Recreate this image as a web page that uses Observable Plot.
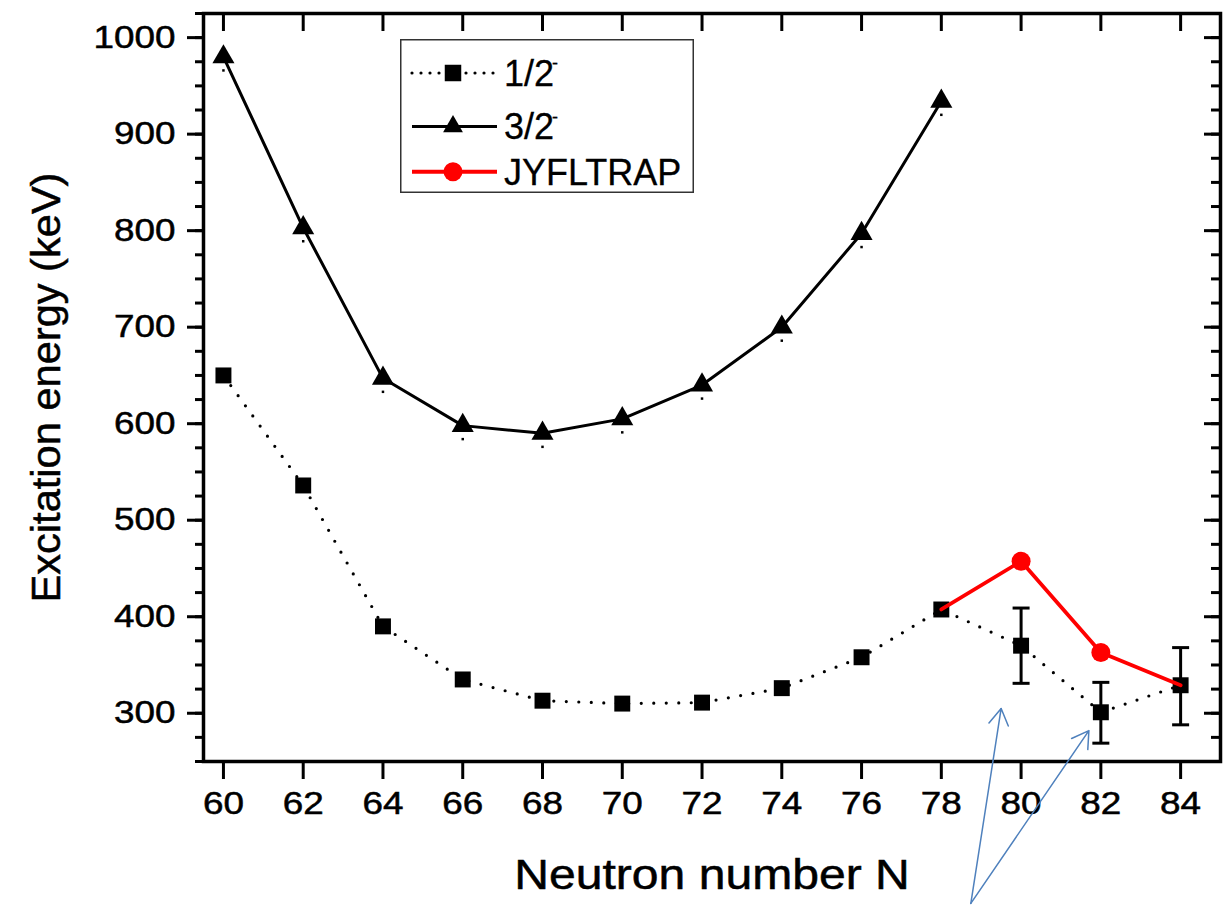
<!DOCTYPE html>
<html><head><meta charset="utf-8">
<script src="https://cdn.jsdelivr.net/npm/d3@7"></script>
<script src="https://cdn.jsdelivr.net/npm/@observablehq/plot@0.6"></script>
<style>
body{margin:0;background:#fff;}
#wrap{position:relative;width:1229px;height:905px;font-family:"Liberation Sans",Arial,sans-serif;}
#legend{position:absolute;left:400px;top:39px;}
</style></head><body><div id="wrap"></div>
<script>
// ---- data ----
const halfN = [60,62,64,66,68,70,72,74,76,78,80,82,84];
const halfE = [650,536,390,335,313,310,311,326,358,407.5,370,301,329];
const threeHalfN = [60,62,64,66,68,70,72,74,76,78];
const threeHalfE = [980,803,647,598,590,605,640,700,797,934];
const jyflN = [78,80,82,84];
const jyflE = [407.5,457.5,363,329];
const errN = [80,82,84];
const errLo = [331,269,288];
const errHi = [409,332,368];
const xTicks = [60,62,64,66,68,70,72,74,76,78,80,82,84];
const yMajor = [300,400,500,600,700,800,900,1000];
const yMinor = d3.range(250, 1026, 25);
const arrowBaseN = [78.74,78.74];
const arrowBaseE = [103,103];
const arrowTipN = [79.5,81.7];
const arrowTipE = [305,282];
const legendLabels = ["1/2","3/2","JYFLTRAP"];

// ---- tables ----
const half = halfN.map((n,i)=>({n, e:halfE[i]}));
const three = threeHalfN.map((n,i)=>({n, e:threeHalfE[i]}));
const jyfl = jyflN.map((n,i)=>({n, e:jyflE[i]}));
const err = errN.map((n,i)=>({n, lo:errLo[i], hi:errHi[i]}));
const arrows = arrowTipN.map((n,i)=>({n0:arrowBaseN[i], e0:arrowBaseE[i], n1:n, e1:arrowTipE[i]}));

const cap = {draw(ctx, size){ const w = Math.sqrt(size/Math.PI); ctx.moveTo(-w,0); ctx.lineTo(w,0); }};
const FONT = '"Liberation Sans", Arial, sans-serif';

const chart = Plot.plot({
  width:1229, height:905,
  marginLeft:203, marginRight:9, marginTop:13, marginBottom:144,
  x:{domain:[59.5,85]},
  y:{domain:[250,1025]},
  style:{fontFamily:FONT, fontSize:"31.5px", background:"white", color:"black"},
  marks:[
    Plot.axisY(yMinor, {anchor:"left", tickSize:8, strokeWidth:3, tickFormat:()=>"", label:null}),
    Plot.axisY(yMajor, {anchor:"left", tickSize:16, strokeWidth:3, tickPadding:12, tickFormat:d=>String(d), label:null}),
    Plot.axisY(yMinor, {anchor:"right", tickSize:10, dx:-10, strokeWidth:3, tickFormat:()=>"", label:null}),
    Plot.axisY(yMajor, {anchor:"right", tickSize:17, dx:-17, strokeWidth:3, tickFormat:()=>"", label:null}),
    Plot.axisX(xTicks, {anchor:"bottom", tickSize:18, strokeWidth:3, tickPadding:12, tickFormat:d=>String(d), label:null}),
    Plot.axisX(xTicks, {anchor:"top", tickSize:17, dy:17, strokeWidth:3, tickFormat:()=>"", label:null}),
    Plot.frame({strokeWidth:3.5}),
    Plot.line(half, {x:"n", y:"e", stroke:"black", strokeWidth:3.2, strokeDasharray:"0,12.5", strokeLinecap:"round"}),
    Plot.ruleX(err, {x:"n", y1:"lo", y2:"hi", stroke:"black", strokeWidth:3}),
    Plot.dot(err, {x:"n", y:"lo", symbol:cap, r:8.5, stroke:"black", strokeWidth:3, fill:"none"}),
    Plot.dot(err, {x:"n", y:"hi", symbol:cap, r:8.5, stroke:"black", strokeWidth:3, fill:"none"}),
    Plot.dot(half, {x:"n", y:"e", symbol:"square", r:9, fill:"black", stroke:"none"}),
    Plot.line(three, {x:"n", y:"e", stroke:"black", strokeWidth:3}),
    Plot.dot(three, {x:"n", y:"e", symbol:"triangle", r:8.2, fill:"black", stroke:"none"}),
    Plot.dot(three, {x:"n", y:"e", dy:13.5, symbol:"square", r:1.4, fill:"black", stroke:"none"}),
    Plot.line(jyfl, {x:"n", y:"e", stroke:"#ff0000", strokeWidth:3.8}),
    Plot.dot(jyfl, {x:"n", y:"e", filter:(d,i,data)=>i>0 && i<jyfl.length-1, symbol:"circle", r:9.5, fill:"#ff0000", stroke:"none"}),
    Plot.text(["Neutron number N"], {text:d=>d, frameAnchor:"bottom", dy:114, fontSize:42, lineAnchor:"middle", textAnchor:"middle", fill:"black"}),
    Plot.text(["Excitation energy (keV)"], {text:d=>d, frameAnchor:"left", dx:-156, rotate:-90, fontSize:40, lineAnchor:"middle", textAnchor:"middle", fill:"black"}),
    Plot.arrow(arrows, {x1:"n0", y1:"e0", x2:"n1", y2:"e1", stroke:"#4f81bd", strokeWidth:1.5, headLength:19, headAngle:62})
  ]
});

// widen the Arial-like glyphs and thicken them slightly to match the reference lettering
chart.querySelectorAll("text").forEach(t => {
  const s = t.textContent === "Neutron number N" ? 1.145 : t.textContent === "Excitation energy (keV)" ? 1.04 : 1.17;
  const tr = t.getAttribute("transform");
  if (tr) t.setAttribute("transform", tr + ` scale(${s},1)`);
  else {
    const x = +t.getAttribute("x") || 0, y = +t.getAttribute("y") || 0;
    t.setAttribute("transform", `translate(${x},${y}) scale(${s},1) translate(${-x},${-y})`);
  }
  t.setAttribute("stroke","black");
  t.setAttribute("stroke-width","0.5");
});

const wrap = document.getElementById("wrap");
wrap.appendChild(chart);

// ---- legend (inset box) ----
const W = 294, H = 154;
const leg = d3.create("svg").attr("id","legend").attr("width",W).attr("height",H)
  .style("font-family",FONT);
leg.append("rect").attr("x",0.75).attr("y",0.75).attr("width",W-1.5).attr("height",H-1.5)
  .attr("fill","white").attr("stroke","#333").attr("stroke-width",1.5);
const rows = [34, 87.5, 132.7];
const x0 = 12, x1 = 97, xm = 53, xt = 104;
// 1/2-
leg.append("line").attr("x1",x0).attr("x2",x1).attr("y1",rows[0]).attr("y2",rows[0])
  .attr("stroke","black").attr("stroke-width",3.2).attr("stroke-dasharray","0,9").attr("stroke-linecap","round");
leg.append("path").attr("d",d3.symbol(d3.symbolSquare, 16.5*16.5)()).attr("transform",`translate(${xm},${rows[0]})`).attr("fill","black");
// 3/2-
leg.append("line").attr("x1",x0).attr("x2",x1).attr("y1",rows[1]).attr("y2",rows[1])
  .attr("stroke","black").attr("stroke-width",3);
leg.append("path").attr("d",d3.symbol(d3.symbolTriangle, 170)()).attr("transform",`translate(${xm},${rows[1]})`).attr("fill","black");
// JYFLTRAP
leg.append("line").attr("x1",x0).attr("x2",x1).attr("y1",rows[2]).attr("y2",rows[2])
  .attr("stroke","#ff0000").attr("stroke-width",4);
leg.append("circle").attr("cx",xm).attr("cy",rows[2]).attr("r",9.5).attr("fill","#ff0000");
legendLabels.forEach((lab,i) => {
  const t = leg.append("text").attr("x",xt).attr("y",rows[i]+12.9).attr("font-size",36).attr("fill","black")
    .attr("stroke","black").attr("stroke-width",0.3).text(lab);
  if (i < 2) t.append("tspan").attr("font-size",18).attr("dx",-2).attr("dy",-16.5).text("-");
});
wrap.appendChild(leg.node());
</script></body></html>
